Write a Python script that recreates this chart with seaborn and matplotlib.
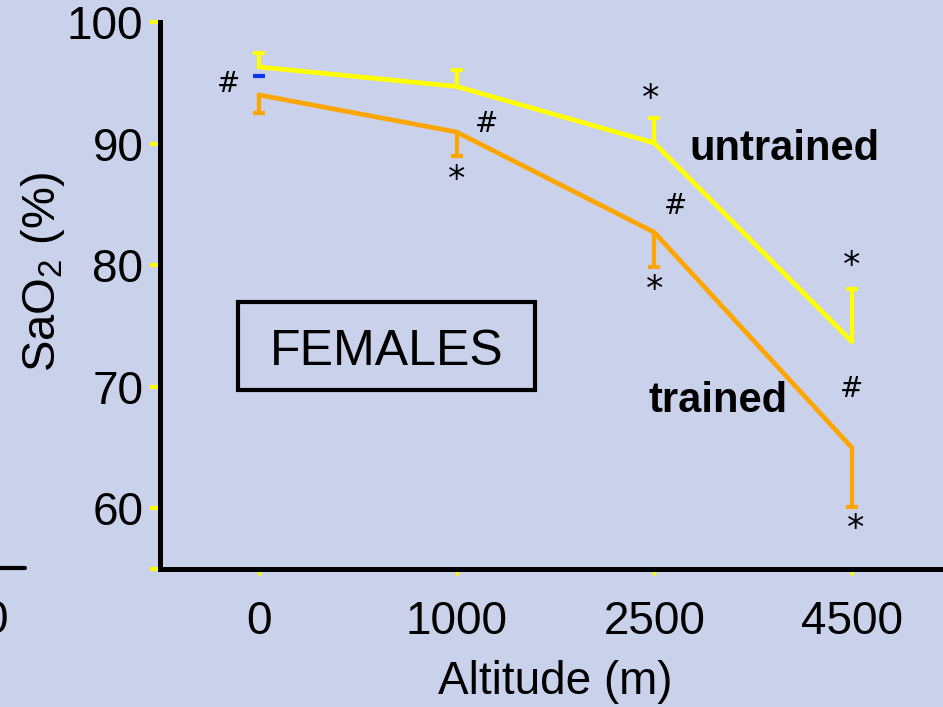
import matplotlib
matplotlib.use("Agg")
import matplotlib.pyplot as plt
import seaborn as sns
import numpy as np
import pandas as pd
from matplotlib.patches import Rectangle
from matplotlib.lines import Line2D

# ---- data ----
altitudes = ["0", "1000", "2500", "4500"]
untrained = [96.3, 94.7, 90.05, 73.7]
untrained_err = [1.15, 1.35, 2.05, 4.3]      # upper error bars
trained = [94.0, 90.95, 82.7, 64.97]
trained_err = [1.5, 1.95, 2.85, 4.87]        # lower error bars
blue_mark = 95.56
y_ticks = [55, 60, 70, 80, 90, 100]
y_tick_labels = ["", "60", "70", "80", "90", "100"]

# annotations: (x index, y value, symbol)
marks = [(-0.152, 94.9, "#"), (1.153, 91.6, "#"), (1.0, 87.0, "*"),
         (1.98, 93.7, "*"), (2.11, 84.9, "#"), (2.0, 77.96, "*"),
         (3.0, 79.9, "*"), (3.0, 69.8, "#"), (3.02, 58.3, "*")]

BG = "#C9D1EB"
YEL = "#FFFF00"
ORA = "#FFA500"

sns.set_theme(style="white")
plt.rcParams["font.family"] = ["Liberation Sans", "DejaVu Sans"]
plt.rcParams["text.color"] = "black"
plt.rcParams["axes.labelcolor"] = "black"

W, H = 943, 707
fig = plt.figure(figsize=(W / 100, H / 100), dpi=100, facecolor=BG)
ax = fig.add_axes([160 / W, 138 / H, 790.8 / W, 547 / H])
ax.set_facecolor(BG)

x = np.arange(len(altitudes))
df = pd.DataFrame({
    "x": np.concatenate([x, x]),
    "SaO2": untrained + trained,
    "group": ["untrained"] * 4 + ["trained"] * 4,
})
sns.lineplot(data=df, x="x", y="SaO2", hue="group",
             palette={"untrained": YEL, "trained": ORA},
             linewidth=3.4, legend=False, ax=ax, zorder=3)

# one-sided error bars
u = np.array(untrained); ue = np.array(untrained_err)
t = np.array(trained); te = np.array(trained_err)
ax.vlines(x, u, u + ue, color=YEL, linewidth=3, zorder=3)
ax.plot(x, u + ue, linestyle="none", marker="_", markersize=8,
        markeredgewidth=3, color=YEL, zorder=3)
ax.vlines(x, t - te, t, color=ORA, linewidth=3, zorder=3)
ax.plot(x, t - te, linestyle="none", marker="_", markersize=8,
        markeredgewidth=3, color=ORA, zorder=3)
ax.plot([0], [blue_mark], linestyle="none", marker="_", markersize=8,
        markeredgewidth=3, color="#1133EE", zorder=3)

for xi, yi, s in marks:
    ax.text(xi, yi, s, ha="center", va="center",
            fontsize=20 if s == "#" else 25,
            family="DejaVu Sans", color="black")

ax.text(2.18, 88.65, "untrained", fontsize=30, fontweight="bold",
        ha="left", va="baseline", color="black")
ax.text(1.973, 67.93, "trained", fontsize=30, fontweight="bold",
        ha="left", va="baseline", color="black")

ax.add_patch(Rectangle((-0.106, 69.74), 1.502, 7.23, fill=False,
                       edgecolor="black", linewidth=3, zorder=2))
ax.text(0.645, 71.8, "FEMALES", fontsize=36, ha="center", va="baseline",
        color="black")

ax.set_xlim(-0.5, 3.5)
ax.set_ylim(55, 100)
ax.set_xticks(x)
ax.set_xticklabels(altitudes)
ax.set_yticks(y_ticks)
ax.set_yticklabels(y_tick_labels)

for side in ["top", "right"]:
    ax.spines[side].set_visible(False)
for side in ["left", "bottom"]:
    ax.spines[side].set_color("black")
    ax.spines[side].set_linewidth(3.6)

ax.tick_params(axis="y", length=7, width=3, color=YEL, pad=5,
               labelsize=33, labelcolor="black", left=True, direction="out")
ax.tick_params(axis="x", length=4, width=2.5, color=YEL, pad=18,
               labelsize=33, labelcolor="black", bottom=True, direction="out")

ax.set_xlabel("Altitude (m)", fontsize=33, labelpad=12, color="black")
ax.set_ylabel(r"SaO$_{\mathregular{2}}$ (%)", fontsize=34, color="black")
ax.yaxis.set_label_coords(-0.1176, 0.543)

# fragment of the neighbouring chart at the left edge
fig.add_artist(Line2D([0, 25 / W], [1 - 568 / H, 1 - 568 / H],
                      color="black", linewidth=3))
fig.text(8 / W, 1 - 633 / H, "0", fontsize=33, ha="right", va="baseline",
         color="black")

fig.savefig("out.png", dpi=100, facecolor=BG)
